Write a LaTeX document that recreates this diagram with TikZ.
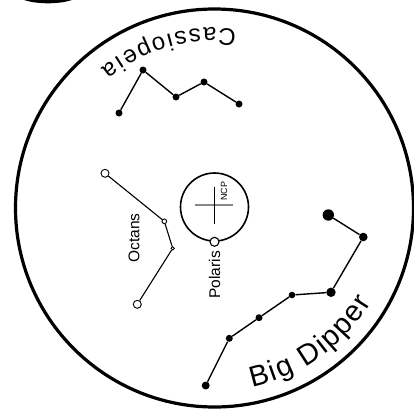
\documentclass[tikz,border=0pt]{standalone}
\usepackage{fontspec}
\setmainfont{Liberation Sans}
\usetikzlibrary{decorations.text}
\definecolor{chartGray}{RGB}{135,135,135}

\begin{document}
\begin{tikzpicture}[
  x=1pt, y=1pt,
  dotstar/.style={
    circle,
    fill=black,
    inner sep=0pt,
    minimum size=#1
  },
  ringstar/.style={
    circle,
    draw,
    fill=white,
    line width=0.9pt,
    inner sep=0pt,
    minimum size=#1
  },
  link/.style={line width=1.4pt},
  thinlink/.style={line width=1.1pt},
  lbl/.style={font=\fontsize{15.5}{18}\selectfont,inner sep=0pt,rotate=90}
]
  \useasboundingbox (-214.5,-202) rectangle (199.5,208);
  \clip (-214.5,-202) rectangle (199.5,208);

  \fill (-166.5,216) ellipse [x radius=34pt, y radius=11.3pt];
  \draw[line width=3.2pt] (0,0) circle [radius=199pt];

  \node[dotstar=7pt] (cas1) at (-95.5,95) {};
  \node[dotstar=7pt] (cas2) at (-71.5,138) {};
  \node[dotstar=7pt] (cas3) at (-38.5,111) {};
  \node[dotstar=7pt] (cas4) at (-10.5,126) {};
  \node[dotstar=7pt] (cas5) at (24.5,104) {};
  \draw[link] (cas1) -- (cas2) -- (cas3) -- (cas4) -- (cas5);
  \path[decorate, decoration={text along path, text align=fit to path,
      text={|\fontsize{24}{28}\selectfont|Cassiopeia}}]
    (83:180) arc [start angle=83, end angle=129, radius=180pt];

  \node[ringstar=8pt] (oct1) at (-109.5,34.7) {};
  \node[ringstar=4.7pt] (oct2) at (-50.2,-13.3) {};
  \node[ringstar=3.4pt] (oct3) at (-41.8,-40.3) {};
  \node[ringstar=8pt] (oct4) at (-77.2,-96.3) {};
  \draw[thinlink] (oct1) -- (oct2) -- (oct3) -- (oct4);
  \node[lbl] (octlabel) at (-80.5,-30) {Octans};

  \node[circle,draw,line width=1.6pt,minimum size=68pt,inner sep=0pt] (ncp) at (0,1) {};
  \draw[chartGray,line width=1.4pt] (-19.5,3) -- (18.5,3);
  \draw[line width=1.4pt] (0,21.3) -- (0,-16);
  \node[font=\fontsize{9}{10}\selectfont,inner sep=0pt,rotate=90] (ncplabel) at (9.5,17) {NCP};
  \node[ringstar=9pt,line width=1.1pt] (polaris) at (ncp.south) {};
  \node[lbl,anchor=east] (polarislabel) at ([yshift=-4pt]polaris.south) {Polaris};

  \node[dotstar=11.4pt] (dip1) at (113.8,-7) {};
  \node[dotstar=8.6pt] (dip2) at (148.8,-29) {};
  \node[dotstar=9.4pt] (dip3) at (116.5,-84.3) {};
  \node[dotstar=6.6pt] (dip4) at (77.5,-87) {};
  \node[dotstar=7pt] (dip5) at (44.5,-109.7) {};
  \node[dotstar=7pt] (dip6) at (14.8,-130.3) {};
  \node[dotstar=8pt] (dip7) at (-8.8,-177.5) {};
  \draw[link] (dip1) -- (dip2) -- (dip3) -- (dip4) -- (dip5) -- (dip6) -- (dip7);
  \path[decorate, decoration={text along path, text align=fit to path,
      text={|\fontsize{29}{34}\selectfont|Big Dipper}}]
    (-78:183) arc [start angle=-78, end angle=-31, radius=183pt];
\end{tikzpicture}
\end{document}
